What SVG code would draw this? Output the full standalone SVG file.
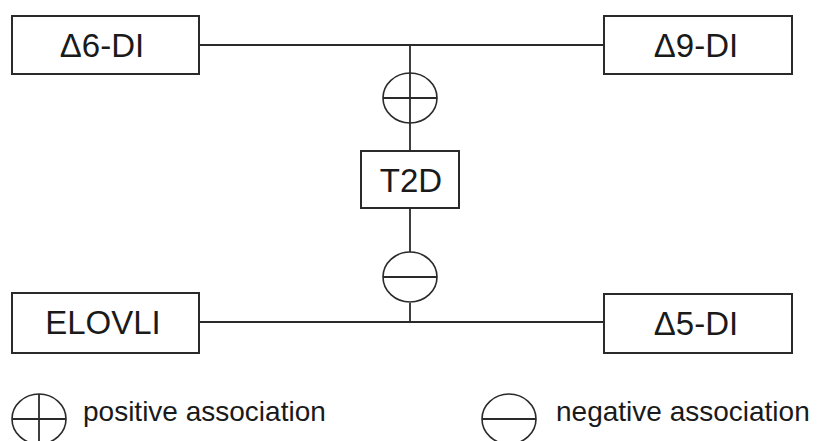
<svg xmlns="http://www.w3.org/2000/svg" width="820" height="441" viewBox="0 0 820 441">
<style>
.box{fill:#fff;stroke:#2a2a2a;stroke-width:2}
.ln{fill:none;stroke:#2a2a2a;stroke-width:1.8}
.sym{fill:#fff;stroke:#2a2a2a;stroke-width:1.6}
.lbl{font-family:"Liberation Sans",Arial,sans-serif;font-size:33px;fill:#1a1a1a;text-anchor:middle}
.leg{font-family:"Liberation Sans",Arial,sans-serif;font-size:28px;fill:#1a1a1a}
</style>
<rect width="820" height="441" fill="#fff"/>
<g id="connectors">
<path class="ln" d="M199 45 H604 M410 45 V73 M410 123 V151 M410 208 V252 M410 303 V322 M199 322 H604"/>
</g>
<g id="plus">
<ellipse class="sym" cx="410" cy="98" rx="27" ry="25"/>
<path class="ln" d="M383 98 H437 M410 73 V123"/>
</g>
<g id="minus">
<ellipse class="sym" cx="410" cy="277" rx="27" ry="25"/>
<path class="ln" d="M383 277 H437"/>
</g>
<g id="d6di">
<rect class="box" x="12" y="16" width="187" height="58"/>
<text class="lbl" x="102" y="57">Δ6-DI</text>
</g>
<g id="d9di">
<rect class="box" x="604" y="16" width="188" height="58"/>
<text class="lbl" x="696" y="57">Δ9-DI</text>
</g>
<g id="t2d">
<rect class="box" x="361" y="151" width="98" height="57"/>
<text class="lbl" x="411" y="192">T2D</text>
</g>
<g id="elovli">
<rect class="box" x="12" y="293" width="187" height="60"/>
<text class="lbl" x="103" y="334">ELOVLI</text>
</g>
<g id="d5di">
<rect class="box" x="604" y="294" width="188" height="59"/>
<text class="lbl" x="696" y="335">Δ5-DI</text>
</g>
<g id="legend-positive">
<ellipse class="sym" cx="39" cy="419" rx="27" ry="25"/>
<path class="ln" d="M12 419 H66 M39 394 V441"/>
<text class="leg" x="83" y="421">positive association</text>
</g>
<g id="legend-negative">
<ellipse class="sym" cx="509" cy="419" rx="27" ry="25"/>
<path class="ln" d="M482 419 H536"/>
<text class="leg" x="556" y="421">negative association</text>
</g>
</svg>
